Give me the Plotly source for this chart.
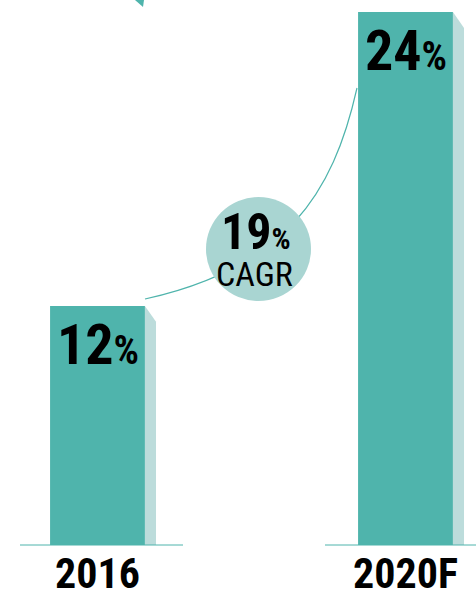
import plotly.graph_objects as go

categories = ["2016", "2020F"]
values = [12, 24]
value_labels = ["12", "24"]
cagr_value = "19"
cagr_label = "CAGR"

BAR = "#4fb4ac"
SHADOW = "#bcdcdb"
CIRCLE = "#a9d5d2"
FONT = "Roboto Condensed, Roboto, sans-serif"

W, H = 476, 594
MB = 49
PH = H - MB


def px(x):
    return x / W


def py(y):
    return (PH - y) / PH


idx = list(range(len(categories)))
bar_w = 0.308
sh_w = 0.036
y_min = 2.24
y_max = 24.49
slant = 0.65

fig = go.Figure()
fig.add_trace(go.Bar(x=idx, y=values, width=bar_w, marker=dict(color=BAR, line=dict(width=0)),
                     hoverinfo="skip"))
for i, v in zip(idx, values):
    x0 = i + bar_w / 2
    x1 = x0 + sh_w
    fig.add_trace(go.Scatter(x=[x0, x1, x1, x0, x0], y=[v, v - slant, 0, 0, v], mode="lines",
                             fill="toself", fillcolor=SHADOW, line=dict(width=0),
                             hoverinfo="skip", showlegend=False))

shapes = []
# baselines
shapes.append(dict(type="line", xref="paper", yref="paper", x0=px(20), x1=px(183), y0=0, y1=0,
                   line=dict(color=BAR, width=1)))
shapes.append(dict(type="line", xref="paper", yref="paper", x0=px(325), x1=1, y0=0, y1=0,
                   line=dict(color=BAR, width=1)))
# growth curve
p0, p1, p2, p3 = (145, 299), (285, 268), (333, 195), (357, 88)
path = "M {},{} C {},{} {},{} {},{}".format(px(p0[0]), py(p0[1]), px(p1[0]), py(p1[1]),
                                          px(p2[0]), py(p2[1]), px(p3[0]), py(p3[1]))
shapes.append(dict(type="path", xref="paper", yref="paper", path=path,
                   line=dict(color=BAR, width=1.2)))
# arrow fragment at top
tri = "M {},{} L {},{} L {},{} Z".format(px(135), py(0), px(144), py(0), px(143), py(7))
shapes.append(dict(type="path", xref="paper", yref="paper", path=tri, fillcolor=BAR,
                   line=dict(width=0)))
# CAGR circle
shapes.append(dict(type="circle", xref="paper", yref="paper", x0=px(206), x1=px(311),
                   y0=py(301), y1=py(197), fillcolor=CIRCLE, line=dict(width=0)))

annotations = []
for i, v, lab in zip(idx, values, value_labels):
    annotations.append(dict(x=i, y=v, xref="x", yref="y", xanchor="center", yanchor="top",
                            yshift=-4, showarrow=False,
                            text="<b>{}</b><span style='font-size:40px'><b>%</b></span>".format(lab),
                            font=dict(family=FONT, size=56, color="#000")))
annotations.append(dict(x=px(256), y=py(232), xref="paper", yref="paper", xanchor="center",
                        yanchor="middle", showarrow=False,
                        text="<b>{}</b><span style='font-size:30px'><b>%</b></span>".format(cagr_value),
                        font=dict(family=FONT, size=50, color="#000")))
annotations.append(dict(x=px(254), y=py(274), xref="paper", yref="paper", xanchor="center",
                        yanchor="middle", showarrow=False, text=cagr_label,
                        font=dict(family=FONT, size=34, color="#000")))

fig.update_layout(
    width=W, height=H, margin=dict(l=0, r=0, t=0, b=MB),
    paper_bgcolor="white", plot_bgcolor="white", showlegend=False,
    shapes=shapes, annotations=annotations,
    xaxis=dict(range=[-97.5 / 308, (W - 97.5) / 308], tickvals=idx,
               ticktext=["<b>{}</b>".format(c) for c in categories], automargin=False,
               showgrid=False, zeroline=False, showline=False, ticks="", ticklabelstandoff=0,
               tickfont=dict(family=FONT, size=42, color="#000"), fixedrange=True),
    yaxis=dict(range=[y_min, y_max], visible=False, fixedrange=True, automargin=False),
)

fig.write_html("out.html")
